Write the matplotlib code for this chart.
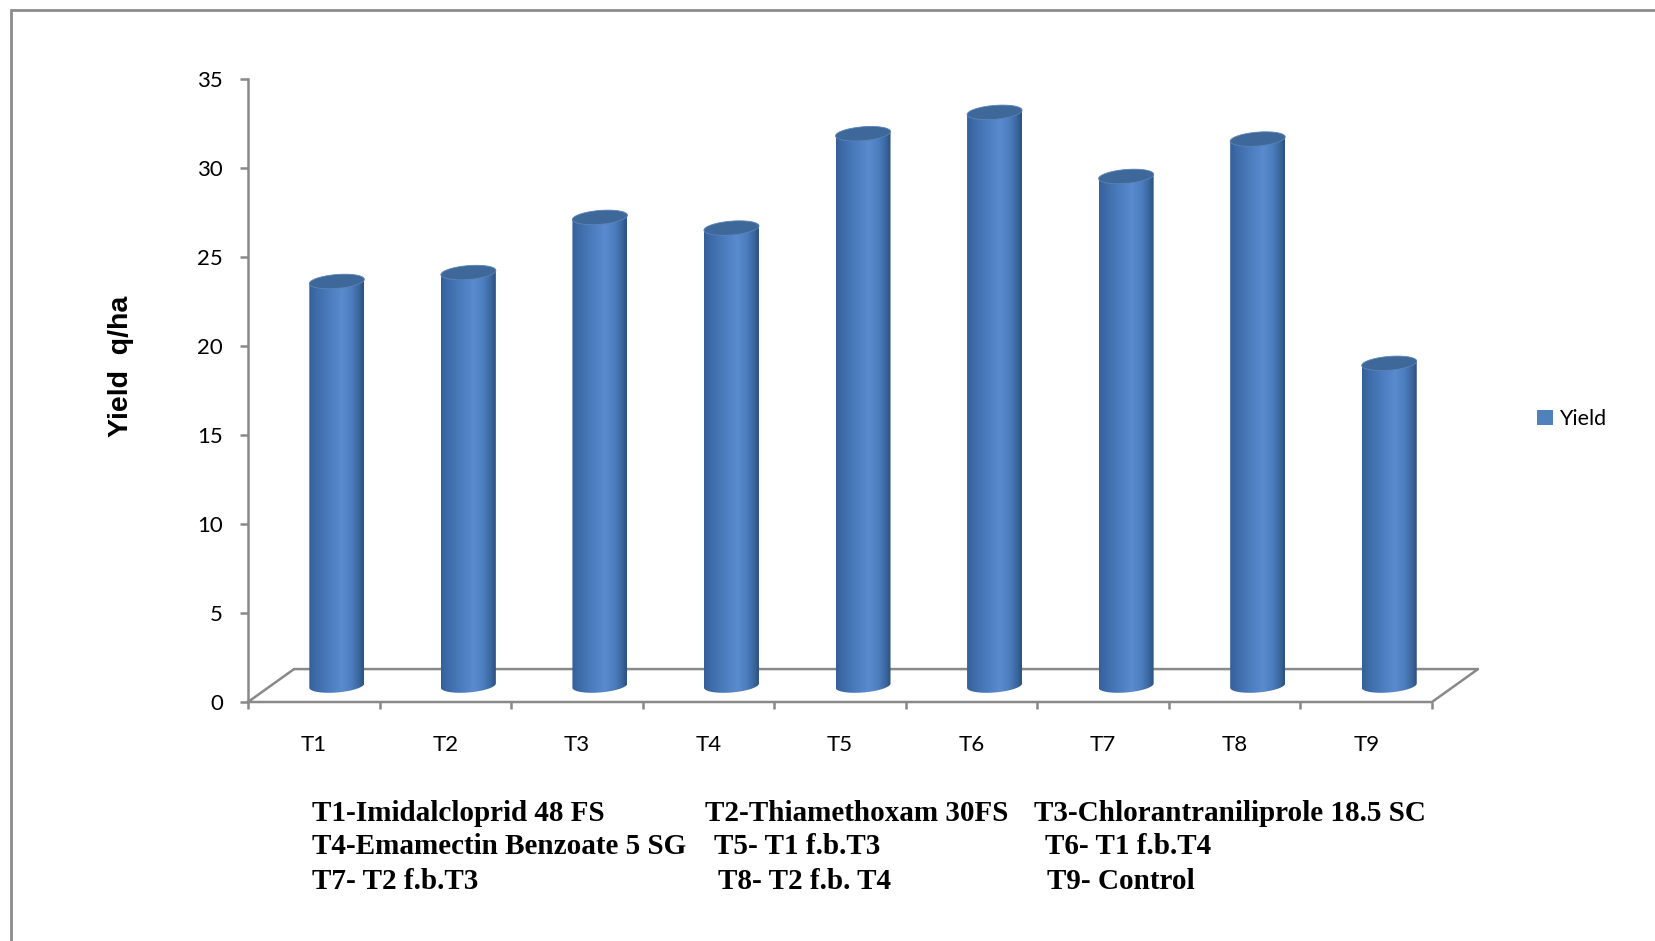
import numpy as np
import matplotlib.pyplot as plt
from matplotlib.patches import Polygon, Rectangle, Patch
from matplotlib.colors import LinearSegmentedColormap

plt.rcParams['font.family'] = ['Lato', 'DejaVu Sans']

# yield per treatment (q/ha)
treatments = ["T1", "T2", "T3", "T4", "T5", "T6", "T7", "T8", "T9"]
yield_qha = [22.7, 23.2, 26.3, 25.7, 31.0, 32.2, 28.6, 30.7, 18.1]
y_ticks = [0, 5, 10, 15, 20, 25, 30, 35]

notes = [
    ["T1-Imidalcloprid 48 FS", "T2-Thiamethoxam 30FS", "T3-Chlorantraniliprole 18.5 SC"],
    ["T4-Emamectin Benzoate 5 SG", "T5- T1 f.b.T3", "T6- T1 f.b.T4"],
    ["T7- T2 f.b.T3", "T8- T2 f.b. T4", "T9- Control"],
]

GRAY = "#898989"
W, H = 1656, 941

# 3d look: floor depth in data units, cylinder radius / ellipse size / tilt
DX, DY = 0.35, 1.85
A, B, K = 0.209, 0.39, 0.12

body_cmap = LinearSegmentedColormap.from_list(
    "cyl", [(0.0, "#33609a"), (0.12, "#3e6ba8"), (0.35, "#4a7bbc"),
            (0.6, "#5a8bcf"), (0.78, "#4c7dbd"), (0.92, "#3a659c"),
            (1.0, "#2c4f7e")])
grad = body_cmap(np.linspace(0, 1, 256))[None, :, :]

fig = plt.figure(figsize=(W / 100, H / 100), dpi=100)
ax = fig.add_axes([248 / W, 1 - 702 / H, (1432 - 248) / W, (702 - 79) / H])


def cylinder(ax, cx, base, top):
    t = np.linspace(np.pi, 2 * np.pi, 80)
    front = np.column_stack([cx + A * np.cos(t), base + B * np.sin(t) + K * np.cos(t)])
    body = np.vstack([[cx - A, top - K], front, [cx + A, top + K]])
    clip = Polygon(body, closed=True, facecolor="none", edgecolor="none", zorder=3)
    ax.add_patch(clip)
    im = ax.imshow(grad, extent=[cx - A, cx + A, base - B - K, top + K],
                   aspect="auto", interpolation="bilinear", zorder=3)
    im.set_clip_path(clip)
    t = np.linspace(0, 2 * np.pi, 160)
    cap = np.column_stack([cx + A * np.cos(t), top + B * np.sin(t) + K * np.cos(t)])
    ax.add_patch(Polygon(cap, closed=True, facecolor="#3e6899",
                         edgecolor="#5a84ba", lw=0.6, zorder=4))


# floor
n = len(treatments)
ax.plot([0, DX, n + DX, n, 0], [0, DY, DY, 0, 0],
        color=GRAY, lw=1.8, clip_on=False, zorder=1)

for i, v in enumerate(yield_qha):
    cx = i + 0.5 + DX / 2
    base = DY / 2
    cylinder(ax, cx, base, base + v)

ax.set_xlim(0, n)
ax.set_ylim(0, 35)
for s in ["top", "right", "bottom"]:
    ax.spines[s].set_visible(False)
ax.spines["left"].set_color(GRAY)
ax.spines["left"].set_linewidth(1.8)

ax.set_yticks(y_ticks)
ax.set_yticklabels([str(v) for v in y_ticks])
ax.tick_params(axis="y", length=6, width=1.8, color=GRAY, pad=12, labelsize=16)

ax.set_xticks(range(n + 1))
ax.set_xticklabels([""] * (n + 1))
ax.set_xticks(np.arange(n) + 0.5, minor=True)
ax.set_xticklabels(treatments, minor=True)
ax.tick_params(axis="x", which="major", length=5, width=1.8, color=GRAY)
ax.tick_params(axis="x", which="minor", length=0, pad=24, labelsize=16)

fig.text(121 / W, 1 - 366 / H, "Yield  q/ha", rotation=90, ha="center", va="center",
         family="Liberation Sans", fontweight="bold", fontsize=20.5)

handle = Patch(facecolor="#4f81bd", edgecolor="none", label="Yield")
fig.legend(handles=[handle], loc="center left", bbox_to_anchor=(1526 / W, 1 - 419 / H),
           frameon=False, borderpad=0, handlelength=0.75, handleheight=0.75,
           handletextpad=0.3, prop={"family": "Lato", "size": 15.5})

# treatment key under the chart
col_x = [[312, 705, 1034], [312, 714, 1045], [312, 718, 1047]]
row_y = [821, 854, 889]
for r, row in enumerate(notes):
    for c, txt in enumerate(row):
        fig.text(col_x[r][c] / W, 1 - row_y[r] / H, txt, ha="left", va="baseline",
                 family="Liberation Serif", fontweight="bold", fontsize=21)

fig.add_artist(Rectangle((11 / W, -0.1), 1.2, 1 - 10 / H + 0.1, transform=fig.transFigure,
                         fill=False, edgecolor="#8c8c8c", lw=2))

fig.savefig("out.png", dpi=100)
